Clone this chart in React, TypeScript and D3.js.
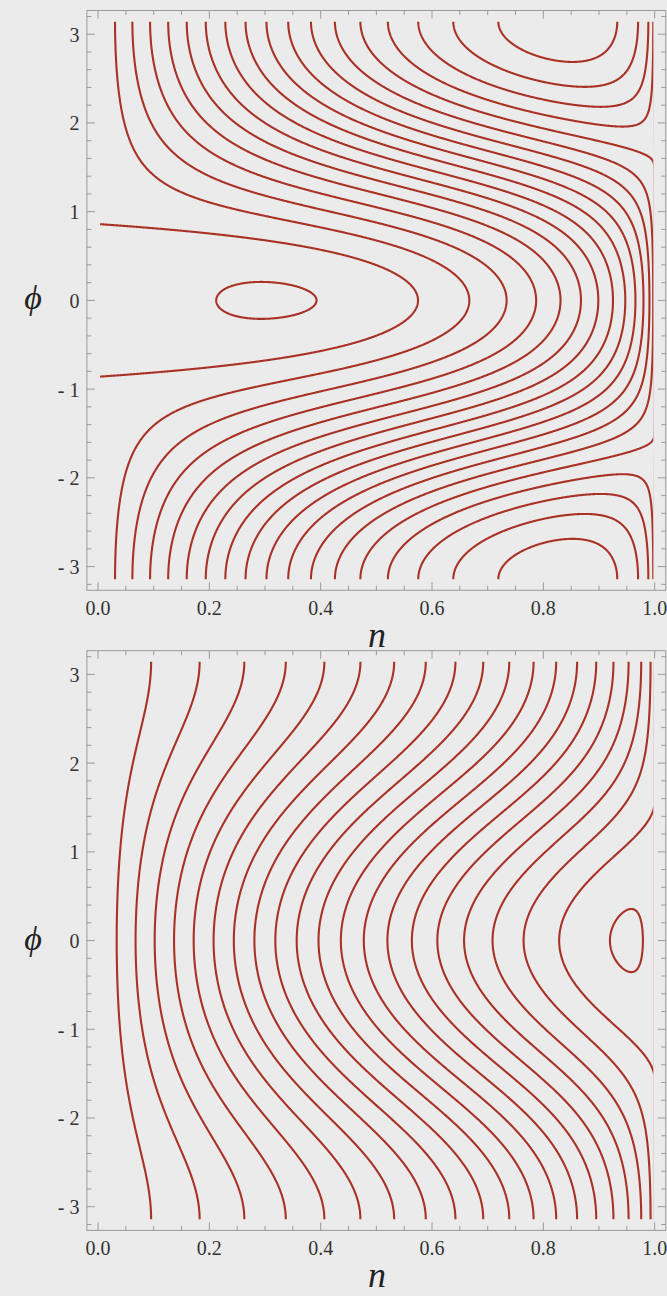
import React, { useMemo } from 'react';
import * as d3 from 'd3';

const WIDTH = 667;
const HEIGHT = 1296;

// Energy surface of each panel: H(n, φ) = n·√(1−n)·cos φ + δ·n
const panelDetuning = [-0.652, 2.0];

// contour levels (spacing 0.05 on top, 0.1 below)
const topLevels = [
  -0.85, -0.8, -0.75, -0.7, -0.65, -0.6, -0.55, -0.5, -0.45, -0.4,
  -0.35, -0.3, -0.25, -0.2, -0.15, -0.1, -0.05, 0, 0.05,
];
const bottomLevels = [
  0.1, 0.2, 0.3, 0.4, 0.5, 0.6, 0.7, 0.8, 0.9, 1.0, 1.1,
  1.2, 1.3, 1.4, 1.5, 1.6, 1.7, 1.8, 1.9, 2.0, 2.1,
];

const nTicks = [0, 0.2, 0.4, 0.6, 0.8, 1.0];
const nTickLabels = ['0.0', '0.2', '0.4', '0.6', '0.8', '1.0'];
const nMinorTicks = [
  0.05, 0.1, 0.15, 0.25, 0.3, 0.35, 0.45, 0.5, 0.55, 0.65, 0.7, 0.75, 0.85, 0.9, 0.95,
];
const phiTicks = [-3, -2, -1, 0, 1, 2, 3];
const phiTickLabels = ['- 3', '- 2', '- 1', '0', '1', '2', '3'];
const phiMinorTicks = [
  -3.2, -2.8, -2.6, -2.4, -2.2, -1.8, -1.6, -1.4, -1.2, -0.8, -0.6, -0.4, -0.2,
  0.2, 0.4, 0.6, 0.8, 1.2, 1.4, 1.6, 1.8, 2.2, 2.4, 2.6, 2.8, 3.2,
];

const nDomain = [-0.02, 1.02];
const phiDomain = [-3.267, 3.267];
const xRange = [86.9, 665.8];
const panelBox = [
  { top: 10.5, bottom: 590.3 },
  { top: 650.7, bottom: 1230.4 },
];

const LINE = '#a93226';
const FRAME = '#9a9a9a';
const FONT = '"Liberation Serif", "DejaVu Serif", serif';

// sampling grid (a bit wider than the plotted box, clipped afterwards)
const N0 = -0.02, DN = 0.001, NX = 1041;
const P0 = -3.3, DP = 0.01, NY = 661;

function energy(n: number, phi: number, delta: number) {
  const s = n <= 1 ? Math.sqrt(1 - n) : -Math.sqrt(n - 1);
  return n * s * Math.cos(phi) + delta * n;
}

function Panel({ idx, delta, levels }: { idx: number; delta: number; levels: number[] }) {
  const { top, bottom } = panelBox[idx];
  const x = d3.scaleLinear().domain(nDomain).range(xRange);
  const y = d3.scaleLinear().domain(phiDomain).range([bottom, top]);

  const paths = useMemo(() => {
    const values = new Float64Array(NX * NY);
    for (let j = 0; j < NY; j++) {
      const phi = P0 + j * DP;
      for (let i = 0; i < NX; i++) {
        values[j * NX + i] = energy(N0 + i * DN, phi, delta);
      }
    }
    const polys = d3.contours().size([NX, NY]).thresholds(levels)(values as any);
    // d3.contours puts sample i at grid coordinate i + 0.5
    const proj = d3.geoTransform({
      point(px: number, py: number) {
        (this as any).stream.point(x(N0 + (px - 0.5) * DN), y(P0 + (py - 0.5) * DP));
      },
    });
    const path = d3.geoPath(proj);
    return polys.map(p => path(p as any) || '');
  }, [delta, levels, top, bottom]);

  const left = xRange[0], right = xRange[1];
  const clipId = `clip-${idx}`;
  const major = 8, minor = 4.5;
  const clipL = x(0) + 2, clipR = x(1) - 1.35;

  return (
    <g>
      <defs>
        <clipPath id={clipId}>
          <rect x={clipL} y={y(Math.PI)} width={clipR - clipL} height={y(-Math.PI) - y(Math.PI)} />
        </clipPath>
      </defs>
      <g clipPath={`url(#${clipId})`}>
        {paths.map((d, k) => (
          <path key={k} d={d} fill="none" stroke={LINE} strokeWidth={2.1} strokeLinejoin="round" />
        ))}
      </g>

      <rect x={left} y={top} width={right - left} height={bottom - top} fill="none" stroke={FRAME} strokeWidth={1} />

      {/* n ticks, bottom and top */}
      {nTicks.concat(nMinorTicks).map((t, k) => {
        const len = k < nTicks.length ? major : minor;
        return (
          <g key={`nt${k}`} stroke={FRAME} strokeWidth={1}>
            <line x1={x(t)} x2={x(t)} y1={bottom} y2={bottom - len} />
            <line x1={x(t)} x2={x(t)} y1={top} y2={top + len} />
          </g>
        );
      })}
      {/* φ ticks, left and right */}
      {phiTicks.concat(phiMinorTicks).map((t, k) => {
        const len = k < phiTicks.length ? major : minor;
        return (
          <g key={`pt${k}`} stroke={FRAME} strokeWidth={1}>
            <line x1={left} x2={left + len} y1={y(t)} y2={y(t)} />
            <line x1={right} x2={right - len} y1={y(t)} y2={y(t)} />
          </g>
        );
      })}

      {nTicks.map((t, k) => (
        <text key={`nl${k}`} x={x(t)} y={bottom + 24.5} textAnchor="middle"
          fontFamily={FONT} fontSize={20} fill="#333">{nTickLabels[k]}</text>
      ))}
      {phiTicks.map((t, k) => (
        <text key={`pl${k}`} x={left - 7.5} y={y(t) + 7.5} textAnchor="end"
          fontFamily={FONT} fontSize={20} fill="#333" style={{ whiteSpace: 'pre' }}>{phiTickLabels[k]}</text>
      ))}

      <text x={377} y={bottom + 57} textAnchor="middle" fontFamily={FONT}
        fontStyle="italic" fontSize={36} fill="#222">n</text>
      <text x={33} y={y(0) + 9} textAnchor="middle" fontFamily={FONT}
        fontStyle="italic" fontSize={34} fill="#222">ϕ</text>
    </g>
  );
}

export default function App() {
  return (
    <svg width={WIDTH} height={HEIGHT} style={{ position: 'absolute', left: 0, top: 0, display: 'block' }}>
      <rect x={0} y={0} width={WIDTH} height={HEIGHT} fill="#ebebeb" />
      <Panel idx={0} delta={panelDetuning[0]} levels={topLevels} />
      <Panel idx={1} delta={panelDetuning[1]} levels={bottomLevels} />
    </svg>
  );
}
